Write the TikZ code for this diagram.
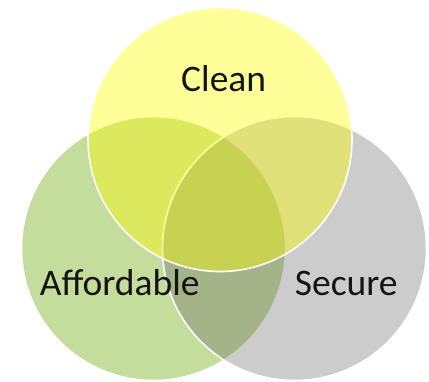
\documentclass[tikz,border=0pt]{standalone}
\usepackage{fontspec}
\setmainfont{Carlito}
\usepackage{xcolor}
\usepackage{tikz}

\definecolor{cleanYellow}{RGB}{255,255,0}
\definecolor{affGreen}{RGB}{137,185,57}
\definecolor{secGray}{RGB}{100,100,100}
\definecolor{labelInk}{RGB}{20,20,20}

\tikzset{
	setcircle/.style={circle,minimum size=264pt,inner sep=0pt,outer sep=0pt,draw=white,line width=1.6pt},
	setlabel/.style={anchor=base,text=labelInk,font=\fontsize{37.5}{45}\selectfont}
}

\begin{document}
\begin{tikzpicture}[x=1pt,y=1pt]
	\useasboundingbox (0,0) rectangle (429,381);
	\begin{scope}[shift={(0,0)}]
		% green first, then gray, yellow on top
		\node[setcircle,fill=affGreen,fill opacity=.5] at (153.5,132.5) (affordable) {};
		\node[setcircle,fill=secGray,fill opacity=.33] at (294.5,132.5) (secure) {};
		\node[setcircle,fill=cleanYellow,fill opacity=.4] at (220,241.5) (clean) {};

		\node[setlabel] at (223.7,289.3) (cleanlabel) {Clean};
		\node[setlabel] at (119.7,86) (affordablelabel) {Affordable};
		\node[setlabel] at (346.3,86) (securelabel) {Secure};
	\end{scope}
\end{tikzpicture}
\end{document}
